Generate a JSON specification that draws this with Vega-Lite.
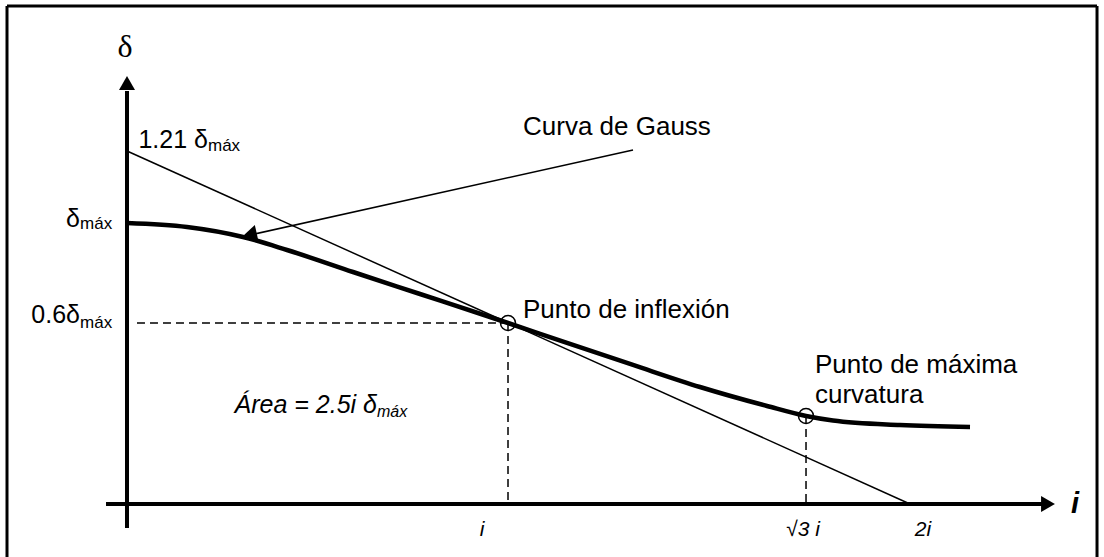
{
  "$schema": "https://vega.github.io/schema/vega-lite/v6.json",
  "width": 1104,
  "height": 557,
  "autosize": "none",
  "padding": 0,
  "background": "white",
  "config": {"view": {"stroke": null}},
  "encoding": {
    "x": {"field": "x", "type": "quantitative", "scale": {"domain": [-0.32439, 2.49553], "nice": false, "zero": false}, "axis": null},
    "y": {"field": "y", "type": "quantitative", "scale": {"domain": [-0.18861, 1.79359], "nice": false, "zero": false}, "axis": null}
  },
  "layer": [
    {
      "data": {"values": [
        {"x": -0.3065, "y": 1.7722, "x2": 2.4777, "y2": 1.7722},
        {"x": -0.3065, "y": 1.7722, "x2": -0.3065, "y2": -0.18861},
        {"x": 2.4777, "y": 1.7722, "x2": 2.4777, "y2": -0.18861}
      ]},
      "mark": {"type": "rule", "stroke": "black", "strokeWidth": 3},
      "encoding": {"x2": {"field": "x2"}, "y2": {"field": "y2"}}
    },
    {
      "data": {"values": [
        {"x": 0.0255, "y": 0.6441, "x2": 0.9732, "y2": 0.6441},
        {"x": 0.9732, "y": 0.6441, "x2": 0.9732, "y2": 0},
        {"x": 1.7344, "y": 0.3132, "x2": 1.7344, "y2": 0}
      ]},
      "mark": {"type": "rule", "stroke": "black", "strokeWidth": 1.5, "strokeDash": [8, 5]},
      "encoding": {"x2": {"field": "x2"}, "y2": {"field": "y2"}}
    },
    {
      "data": {"values": [
        {"x": 0, "y": 1.2562, "x2": 2.0, "y2": 0},
        {"x": 1.2925, "y": 1.2598, "x2": 0.3142, "y2": 0.9573}
      ]},
      "mark": {"type": "rule", "stroke": "black", "strokeWidth": 1.5},
      "encoding": {"x2": {"field": "x2"}, "y2": {"field": "y2"}}
    },
    {
      "data": {"values": [
        {"x": 0, "y": -0.0854, "x2": 0, "y2": 1.4698},
        {"x": -0.0536, "y": 0, "x2": 2.3525, "y2": 0}
      ]},
      "mark": {"type": "rule", "stroke": "black", "strokeWidth": 4},
      "encoding": {"x2": {"field": "x2"}, "y2": {"field": "y2"}}
    },
    {
      "data": {"values": [
        {"x": 0, "y": 1.0},
        {"x": 0.1533, "y": 0.9858},
        {"x": 0.2963, "y": 0.9502},
        {"x": 0.4087, "y": 0.9039},
        {"x": 0.5773, "y": 0.8256},
        {"x": 0.7484, "y": 0.7473},
        {"x": 0.9195, "y": 0.6690},
        {"x": 0.9732, "y": 0.6441},
        {"x": 1.1239, "y": 0.5730},
        {"x": 1.2925, "y": 0.4947},
        {"x": 1.4636, "y": 0.4164},
        {"x": 1.6347, "y": 0.3488},
        {"x": 1.7344, "y": 0.3132},
        {"x": 1.8033, "y": 0.2972},
        {"x": 1.9745, "y": 0.2811},
        {"x": 2.1533, "y": 0.2740}
      ]},
      "mark": {"type": "line", "stroke": "black", "strokeWidth": 4.5, "interpolate": "monotone"}
    },
    {
      "data": {"values": [{"x": 0, "y": 1.4982}]},
      "mark": {"type": "point", "shape": "triangle-up", "filled": true, "color": "black", "opacity": 1, "size": 256, "strokeWidth": 0}
    },
    {
      "data": {"values": [{"x": 2.3525, "y": 0}]},
      "mark": {"type": "point", "shape": "triangle-right", "filled": true, "color": "black", "opacity": 1, "size": 256, "strokeWidth": 0}
    },
    {
      "data": {"values": [{"x": 0.3136, "y": 0.9591}]},
      "mark": {"type": "point", "shape": "triangle-right", "angle": 167.4, "filled": true, "color": "black", "opacity": 1, "size": 260, "strokeWidth": 0}
    },
    {
      "data": {"values": [{"x": 0.9732, "y": 0.6441}, {"x": 1.7344, "y": 0.3132}]},
      "mark": {"type": "point", "shape": "circle", "filled": false, "stroke": "black", "opacity": 1, "size": 225, "strokeWidth": 1.5}
    },
    {
      "data": {"values": [
        {"x": 1.0115, "y": 1.3132, "t": "Curva de Gauss"},
        {"x": 1.0115, "y": 0.6619, "t": "Punto de inflexión"},
        {"x": 1.7573, "y": 0.4662, "t": "Punto de máxima"},
        {"x": 1.7573, "y": 0.3594, "t": "curvatura"}
      ]},
      "mark": {"type": "text", "align": "left", "baseline": "alphabetic", "font": "Liberation Sans", "fontSize": 26, "color": "black"},
      "encoding": {"text": {"field": "t"}}
    },
    {
      "data": {"values": [
        {"x": 0.2069, "y": 1.2669, "t": "1.21 δ"},
        {"x": -0.12, "y": 0.9858, "t": "δ"},
        {"x": -0.12, "y": 0.6441, "t": "0.6δ"}
      ]},
      "mark": {"type": "text", "align": "right", "baseline": "alphabetic", "font": "Liberation Sans", "fontSize": 25, "color": "black"},
      "encoding": {"text": {"field": "t"}}
    },
    {
      "data": {"values": [
        {"x": 0.2069, "y": 1.2562, "t": "máx"},
        {"x": -0.12, "y": 0.9786, "t": "máx"},
        {"x": -0.12, "y": 0.6263, "t": "máx"}
      ]},
      "mark": {"type": "text", "align": "left", "baseline": "alphabetic", "font": "Liberation Sans", "fontSize": 17, "color": "black"},
      "encoding": {"text": {"field": "t"}}
    },
    {
      "data": {"values": [{"x": 0.6386, "y": 0.3238, "t": "Área = 2.5i δ"}]},
      "mark": {"type": "text", "align": "right", "baseline": "alphabetic", "font": "Liberation Sans", "fontStyle": "italic", "fontSize": 25, "color": "black"},
      "encoding": {"text": {"field": "t"}}
    },
    {
      "data": {"values": [{"x": 0.6386, "y": 0.3096, "t": "máx"}]},
      "mark": {"type": "text", "align": "left", "baseline": "alphabetic", "font": "Liberation Sans", "fontStyle": "italic", "fontSize": 16, "color": "black"},
      "encoding": {"text": {"field": "t"}}
    },
    {
      "data": {"values": [
        {"x": 0.9068, "y": -0.1139, "t": "i"},
        {"x": 1.7267, "y": -0.1139, "t": "√3 i"},
        {"x": 2.0332, "y": -0.1139, "t": "2i"}
      ]},
      "mark": {"type": "text", "align": "center", "baseline": "alphabetic", "font": "Liberation Sans", "fontStyle": "italic", "fontSize": 21, "color": "black"},
      "encoding": {"text": {"field": "t"}}
    },
    {
      "data": {"values": [{"x": 2.4215, "y": -0.032, "t": "i"}]},
      "mark": {"type": "text", "align": "center", "baseline": "alphabetic", "font": "Liberation Sans", "fontStyle": "italic", "fontWeight": "bold", "fontSize": 29, "color": "black"},
      "encoding": {"text": {"field": "t"}}
    },
    {
      "data": {"values": [{"x": -0.005, "y": 1.5907, "t": "δ"}]},
      "mark": {"type": "text", "align": "center", "baseline": "alphabetic", "font": "Liberation Serif", "fontSize": 32, "color": "black"},
      "encoding": {"text": {"field": "t"}}
    }
  ]
}
